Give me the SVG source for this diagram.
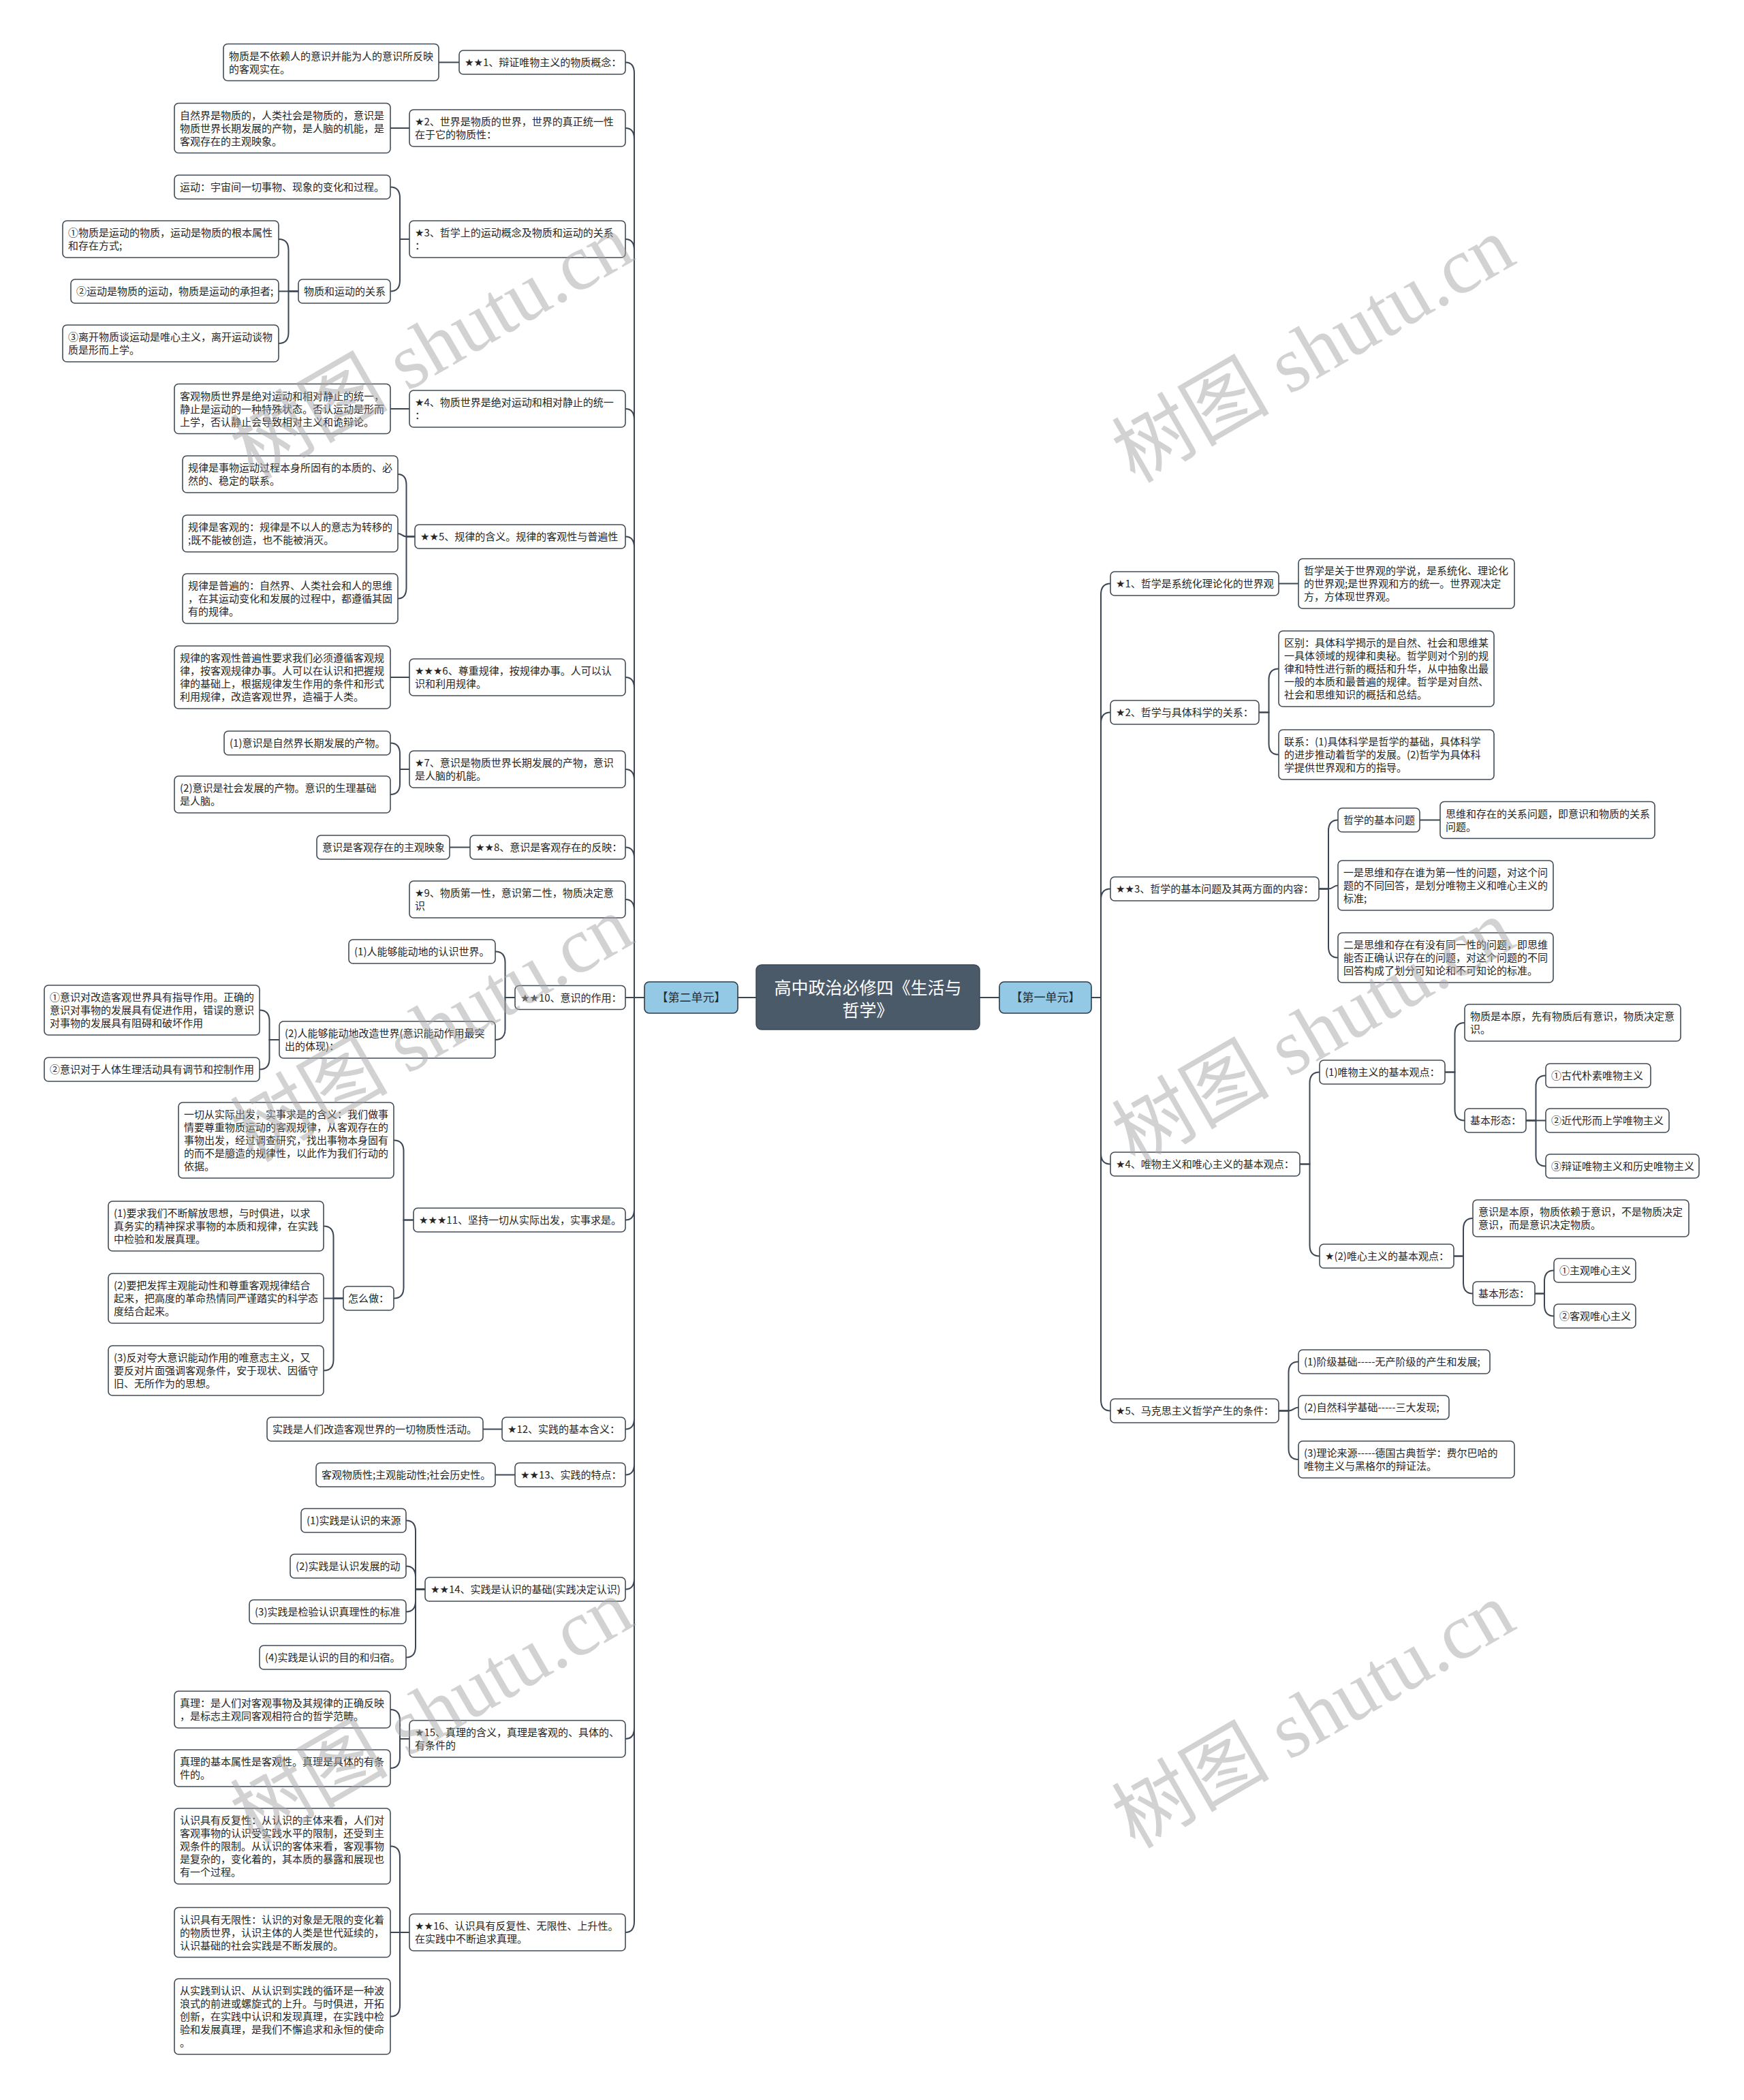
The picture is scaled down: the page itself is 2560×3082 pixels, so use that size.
<svg xmlns="http://www.w3.org/2000/svg" width="2560" height="3082" viewBox="0 0 2560 3082">
<style>
.bg{fill:#ffffff}
.n rect{fill:#ffffff;stroke:#414b55;stroke-width:1.6}
.n text{font-family:"Noto Sans CJK SC","Noto Sans",sans-serif;font-size:15px;fill:#262626}
.st{font-family:"DejaVu Sans",sans-serif}
#connectors path{fill:none;stroke:#3b4754;stroke-width:2}
#root rect{fill:#4b5a69;stroke:#3b4754;stroke-width:1.5}
#root text{font-family:"Noto Sans CJK SC",sans-serif;font-size:25px;fill:#ffffff;text-anchor:middle}
.u rect{fill:#93c9e5;stroke:#2e3b46;stroke-width:1.6}
.u text{font-family:"Noto Sans CJK SC",sans-serif;font-size:17px;fill:#1f2d38;text-anchor:middle}
.wm{font-family:"Liberation Serif","Noto Sans CJK SC",serif;font-size:116px;fill:#a6a6a6;opacity:0.5;text-anchor:middle}
</style>
<rect class="bg" x="0" y="0" width="2560" height="3082"/>
<g id="connectors">
<path d="M1110 1464 H1083"/>
<path d="M1438 1464 H1467"/>
<path d="M946 1464 H931 V107.5 Q931 91.5 918 91.5"/>
<path d="M946 1464 H931 V204 Q931 188 918 188"/>
<path d="M946 1464 H931 V367 Q931 351 918 351"/>
<path d="M946 1464 H931 V616 Q931 600 918 600"/>
<path d="M946 1464 H931 V803.5 Q931 787.5 918 787.5"/>
<path d="M946 1464 H931 V1010 Q931 994 918 994"/>
<path d="M946 1464 H931 V1145 Q931 1129 918 1129"/>
<path d="M946 1464 H931 V1259.5 Q931 1243.5 918 1243.5"/>
<path d="M946 1464 H931 V1336 Q931 1320 918 1320"/>
<path d="M946 1464 H918"/>
<path d="M946 1464 H931 V1774.5 Q931 1790.5 918 1790.5"/>
<path d="M946 1464 H931 V2081.5 Q931 2097.5 918 2097.5"/>
<path d="M946 1464 H931 V2148.5 Q931 2164.5 918 2164.5"/>
<path d="M946 1464 H931 V2316.5 Q931 2332.5 918 2332.5"/>
<path d="M946 1464 H931 V2536 Q931 2552 918 2552"/>
<path d="M946 1464 H931 V2820 Q931 2836 918 2836"/>
<path d="M1602 1464 H1616 V872.5 Q1616 856.5 1630 856.5"/>
<path d="M1602 1464 H1616 V1061.5 Q1616 1045.5 1630 1045.5"/>
<path d="M1602 1464 H1616 V1320.5 Q1616 1304.5 1630 1304.5"/>
<path d="M1602 1464 H1616 V1692.5 Q1616 1708.5 1630 1708.5"/>
<path d="M1602 1464 H1616 V2054.5 Q1616 2070.5 1630 2070.5"/>
<path d="M674 91.5 H644"/>
<path d="M601 188 H573"/>
<path d="M601 351 H587 V290.5 Q587 274.5 573 274.5"/>
<path d="M601 351 H587 V411.5 Q587 427.5 573 427.5"/>
<path d="M438 427.5 H423.5 V367 Q423.5 351 409 351"/>
<path d="M438 427.5 H409"/>
<path d="M438 427.5 H423.5 V488 Q423.5 504 409 504"/>
<path d="M601 600 H573"/>
<path d="M609 787.5 H596.5 V712 Q596.5 696 584 696"/>
<path d="M609 787.5 H596.5 C590 787.5 590 783 584 783"/>
<path d="M609 787.5 H596.5 V862.5 Q596.5 878.5 584 878.5"/>
<path d="M601 994 H573"/>
<path d="M601 1129 H587 V1106.5 Q587 1090.5 573 1090.5"/>
<path d="M601 1129 H587 V1150 Q587 1166 573 1166"/>
<path d="M690 1243.5 H660"/>
<path d="M756 1464 H741.5 V1412.5 Q741.5 1396.5 727 1396.5"/>
<path d="M756 1464 H741.5 V1510 Q741.5 1526 727 1526"/>
<path d="M410 1526 H395.5 V1498.5 Q395.5 1482.5 381 1482.5"/>
<path d="M410 1526 H395.5 V1553.5 Q395.5 1569.5 381 1569.5"/>
<path d="M607 1790.5 H592.5 V1689.5 Q592.5 1673.5 578 1673.5"/>
<path d="M607 1790.5 H592.5 V1889.5 Q592.5 1905.5 578 1905.5"/>
<path d="M504 1905.5 H489.5 V1815.5 Q489.5 1799.5 475 1799.5"/>
<path d="M504 1905.5 H475"/>
<path d="M504 1905.5 H489.5 V1995.5 Q489.5 2011.5 475 2011.5"/>
<path d="M737 2097.5 H709"/>
<path d="M756 2164.5 H727"/>
<path d="M624 2332.5 H610 V2247.5 Q610 2231.5 596 2231.5"/>
<path d="M624 2332.5 H610 V2314.5 Q610 2298.5 596 2298.5"/>
<path d="M624 2332.5 H610 V2349.5 Q610 2365.5 596 2365.5"/>
<path d="M624 2332.5 H610 V2416.5 Q610 2432.5 596 2432.5"/>
<path d="M601 2552 H587 V2525 Q587 2509 573 2509"/>
<path d="M601 2552 H587 V2579 Q587 2595 573 2595"/>
<path d="M601 2836 H587 V2725.5 Q587 2709.5 573 2709.5"/>
<path d="M601 2836 H573"/>
<path d="M601 2836 H587 V2943.5 Q587 2959.5 573 2959.5"/>
<path d="M1877 856.5 H1906"/>
<path d="M1848 1045.5 H1862.5 V997.5 Q1862.5 981.5 1877 981.5"/>
<path d="M1848 1045.5 H1862.5 V1091.5 Q1862.5 1107.5 1877 1107.5"/>
<path d="M1936 1304.5 H1950 V1219.5 Q1950 1203.5 1964 1203.5"/>
<path d="M1936 1304.5 H1950 C1957 1304.5 1957 1299.5 1964 1299.5"/>
<path d="M1936 1304.5 H1950 V1389.5 Q1950 1405.5 1964 1405.5"/>
<path d="M2084 1203.5 H2114"/>
<path d="M1908 1708.5 H1922.5 V1589.5 Q1922.5 1573.5 1937 1573.5"/>
<path d="M1908 1708.5 H1922.5 V1827.5 Q1922.5 1843.5 1937 1843.5"/>
<path d="M2121 1573.5 H2135.5 V1517 Q2135.5 1501 2150 1501"/>
<path d="M2121 1573.5 H2135.5 V1628.5 Q2135.5 1644.5 2150 1644.5"/>
<path d="M2240 1644.5 H2254.5 V1594.5 Q2254.5 1578.5 2269 1578.5"/>
<path d="M2240 1644.5 H2269"/>
<path d="M2240 1644.5 H2254.5 V1695.5 Q2254.5 1711.5 2269 1711.5"/>
<path d="M2134 1843.5 H2148 V1804 Q2148 1788 2162 1788"/>
<path d="M2134 1843.5 H2148 V1882.5 Q2148 1898.5 2162 1898.5"/>
<path d="M2253 1898.5 H2267 V1880.5 Q2267 1864.5 2281 1864.5"/>
<path d="M2253 1898.5 H2267 V1915.5 Q2267 1931.5 2281 1931.5"/>
<path d="M1877 2070.5 H1891.5 V2014.5 Q1891.5 1998.5 1906 1998.5"/>
<path d="M1877 2070.5 H1891.5 C1899 2070.5 1899 2065.5 1906 2065.5"/>
<path d="M1877 2070.5 H1891.5 V2126 Q1891.5 2142 1906 2142"/>
</g>

<g id="root"><rect x="1110" y="1416" width="328" height="95" rx="8"/><text><tspan x="1274" y="1459">高中政治必修四《生活与</tspan><tspan x="1274" y="1492">哲学》</tspan></text></g>
<g id="unit2" class="u"><rect x="946" y="1441" width="137" height="46" rx="7"/><text x="1014.5" y="1470">【第二单元】</text></g>
<g id="unit1" class="u"><rect x="1467" y="1441" width="135" height="46" rx="7"/><text x="1534.5" y="1470">【第一单元】</text></g>

<g id="L1" class="n"><rect x="674" y="74" width="244" height="35" rx="6"/><text x="682" y="97"><tspan class="st">★★</tspan>1、辩证唯物主义的物质概念：</text></g>
<g id="L1a" class="n"><rect x="328" y="64.5" width="316" height="54" rx="6"/><text><tspan x="336" y="87.5">物质是不依赖人的意识并能为人的意识所反映</tspan><tspan x="336" y="106.5">的客观实在。</tspan></text></g>
<g id="L2" class="n"><rect x="601" y="161" width="317" height="54" rx="6"/><text><tspan x="609" y="184"><tspan class="st">★</tspan>2、世界是物质的世界，世界的真正统一性</tspan><tspan x="609" y="203">在于它的物质性：</tspan></text></g>
<g id="L2a" class="n"><rect x="256" y="151.5" width="317" height="73" rx="6"/><text><tspan x="264" y="174.5">自然界是物质的，人类社会是物质的，意识是</tspan><tspan x="264" y="193.5">物质世界长期发展的产物，是人脑的机能，是</tspan><tspan x="264" y="212.5">客观存在的主观映象。</tspan></text></g>
<g id="L3" class="n"><rect x="601" y="324" width="317" height="54" rx="6"/><text><tspan x="609" y="347"><tspan class="st">★</tspan>3、哲学上的运动概念及物质和运动的关系</tspan><tspan x="609" y="366">：</tspan></text></g>
<g id="L3a" class="n"><rect x="256" y="257" width="317" height="35" rx="6"/><text x="264" y="280">运动：宇宙间一切事物、现象的变化和过程。</text></g>
<g id="L3b" class="n"><rect x="438" y="410" width="135" height="35" rx="6"/><text x="446" y="433">物质和运动的关系</text></g>
<g id="L3b1" class="n"><rect x="92" y="324" width="317" height="54" rx="6"/><text><tspan x="100" y="347">①物质是运动的物质，运动是物质的根本属性</tspan><tspan x="100" y="366">和存在方式;</tspan></text></g>
<g id="L3b2" class="n"><rect x="104" y="410" width="305" height="35" rx="6"/><text x="112" y="433">②运动是物质的运动，物质是运动的承担者;</text></g>
<g id="L3b3" class="n"><rect x="92" y="477" width="317" height="54" rx="6"/><text><tspan x="100" y="500">③离开物质谈运动是唯心主义，离开运动谈物</tspan><tspan x="100" y="519">质是形而上学。</tspan></text></g>
<g id="L4" class="n"><rect x="601" y="573" width="317" height="54" rx="6"/><text><tspan x="609" y="596"><tspan class="st">★</tspan>4、物质世界是绝对运动和相对静止的统一</tspan><tspan x="609" y="615">：</tspan></text></g>
<g id="L4a" class="n"><rect x="256" y="563.5" width="317" height="73" rx="6"/><text><tspan x="264" y="586.5">客观物质世界是绝对运动和相对静止的统一，</tspan><tspan x="264" y="605.5">静止是运动的一种特殊状态。否认运动是形而</tspan><tspan x="264" y="624.5">上学，否认静止会导致相对主义和诡辩论。</tspan></text></g>
<g id="L5" class="n"><rect x="609" y="770" width="309" height="35" rx="6"/><text x="617" y="793"><tspan class="st">★★</tspan>5、规律的含义。规律的客观性与普遍性</text></g>
<g id="L5a" class="n"><rect x="268" y="669" width="316" height="54" rx="6"/><text><tspan x="276" y="692">规律是事物运动过程本身所固有的本质的、必</tspan><tspan x="276" y="711">然的、稳定的联系。</tspan></text></g>
<g id="L5b" class="n"><rect x="268" y="756" width="316" height="54" rx="6"/><text><tspan x="276" y="779">规律是客观的：规律是不以人的意志为转移的</tspan><tspan x="276" y="798">;既不能被创造，也不能被消灭。</tspan></text></g>
<g id="L5c" class="n"><rect x="268" y="842" width="316" height="73" rx="6"/><text><tspan x="276" y="865">规律是普遍的：自然界、人类社会和人的思维</tspan><tspan x="276" y="884">，在其运动变化和发展的过程中，都遵循其固</tspan><tspan x="276" y="903">有的规律。</tspan></text></g>
<g id="L6" class="n"><rect x="601" y="967" width="317" height="54" rx="6"/><text><tspan x="609" y="990"><tspan class="st">★★★</tspan>6、尊重规律，按规律办事。人可以认</tspan><tspan x="609" y="1009">识和利用规律。</tspan></text></g>
<g id="L6a" class="n"><rect x="256" y="948" width="317" height="92" rx="6"/><text><tspan x="264" y="971">规律的客观性普遍性要求我们必须遵循客观规</tspan><tspan x="264" y="990">律，按客观规律办事。人可以在认识和把握规</tspan><tspan x="264" y="1009">律的基础上，根据规律发生作用的条件和形式</tspan><tspan x="264" y="1028">利用规律，改造客观世界，造福于人类。</tspan></text></g>
<g id="L7" class="n"><rect x="601" y="1102" width="317" height="54" rx="6"/><text><tspan x="609" y="1125"><tspan class="st">★</tspan>7、意识是物质世界长期发展的产物，意识</tspan><tspan x="609" y="1144">是人脑的机能。</tspan></text></g>
<g id="L7a" class="n"><rect x="329" y="1073" width="244" height="35" rx="6"/><text x="337" y="1096">(1)意识是自然界长期发展的产物。</text></g>
<g id="L7b" class="n"><rect x="256" y="1139" width="317" height="54" rx="6"/><text><tspan x="264" y="1162">(2)意识是社会发展的产物。意识的生理基础</tspan><tspan x="264" y="1181">是人脑。</tspan></text></g>
<g id="L8" class="n"><rect x="690" y="1226" width="228" height="35" rx="6"/><text x="698" y="1249"><tspan class="st">★★</tspan>8、意识是客观存在的反映：</text></g>
<g id="L8a" class="n"><rect x="465" y="1226" width="195" height="35" rx="6"/><text x="473" y="1249">意识是客观存在的主观映象</text></g>
<g id="L9" class="n"><rect x="601" y="1293" width="317" height="54" rx="6"/><text><tspan x="609" y="1316"><tspan class="st">★</tspan>9、物质第一性，意识第二性，物质决定意</tspan><tspan x="609" y="1335">识</tspan></text></g>
<g id="L10" class="n"><rect x="756" y="1446.5" width="162" height="35" rx="6"/><text x="764" y="1469.5"><tspan class="st">★★</tspan>10、意识的作用：</text></g>
<g id="L10a" class="n"><rect x="512" y="1379" width="215" height="35" rx="6"/><text x="520" y="1402">(1)人能够能动地的认识世界。</text></g>
<g id="L10b" class="n"><rect x="410" y="1499" width="317" height="54" rx="6"/><text><tspan x="418" y="1522">(2)人能够能动地改造世界(意识能动作用最突</tspan><tspan x="418" y="1541">出的体现)：</tspan></text></g>
<g id="L10b1" class="n"><rect x="65" y="1446" width="316" height="73" rx="6"/><text><tspan x="73" y="1469">①意识对改造客观世界具有指导作用。正确的</tspan><tspan x="73" y="1488">意识对事物的发展具有促进作用，错误的意识</tspan><tspan x="73" y="1507">对事物的发展具有阻碍和破坏作用</tspan></text></g>
<g id="L10b2" class="n"><rect x="65" y="1552" width="316" height="35" rx="6"/><text x="73" y="1575">②意识对于人体生理活动具有调节和控制作用</text></g>
<g id="L11" class="n"><rect x="607" y="1773" width="311" height="35" rx="6"/><text x="615" y="1796"><tspan class="st">★★★</tspan>11、坚持一切从实际出发，实事求是。</text></g>
<g id="L11a" class="n"><rect x="262" y="1618" width="316" height="111" rx="6"/><text><tspan x="270" y="1641">一切从实际出发，实事求是的含义：我们做事</tspan><tspan x="270" y="1660">情要尊重物质运动的客观规律，从客观存在的</tspan><tspan x="270" y="1679">事物出发，经过调查研究，找出事物本身固有</tspan><tspan x="270" y="1698">的而不是臆造的规律性，以此作为我们行动的</tspan><tspan x="270" y="1717">依据。</tspan></text></g>
<g id="L11b" class="n"><rect x="504" y="1888" width="74" height="35" rx="6"/><text x="511" y="1911">怎么做：</text></g>
<g id="L11b1" class="n"><rect x="159" y="1763" width="316" height="73" rx="6"/><text><tspan x="167" y="1786">(1)要求我们不断解放思想，与时俱进，以求</tspan><tspan x="167" y="1805">真务实的精神探求事物的本质和规律，在实践</tspan><tspan x="167" y="1824">中检验和发展真理。</tspan></text></g>
<g id="L11b2" class="n"><rect x="159" y="1869" width="316" height="73" rx="6"/><text><tspan x="167" y="1892">(2)要把发挥主观能动性和尊重客观规律结合</tspan><tspan x="167" y="1911">起来，把高度的革命热情同严谨踏实的科学态</tspan><tspan x="167" y="1930">度结合起来。</tspan></text></g>
<g id="L11b3" class="n"><rect x="159" y="1975" width="316" height="73" rx="6"/><text><tspan x="167" y="1998">(3)反对夸大意识能动作用的唯意志主义，又</tspan><tspan x="167" y="2017">要反对片面强调客观条件，安于现状、因循守</tspan><tspan x="167" y="2036">旧、无所作为的思想。</tspan></text></g>
<g id="L12" class="n"><rect x="737" y="2080" width="181" height="35" rx="6"/><text x="745" y="2103"><tspan class="st">★</tspan>12、实践的基本含义：</text></g>
<g id="L12a" class="n"><rect x="392" y="2080" width="317" height="35" rx="6"/><text x="400" y="2103">实践是人们改造客观世界的一切物质性活动。</text></g>
<g id="L13" class="n"><rect x="756" y="2147" width="162" height="35" rx="6"/><text x="764" y="2170"><tspan class="st">★★</tspan>13、实践的特点：</text></g>
<g id="L13a" class="n"><rect x="464" y="2147" width="263" height="35" rx="6"/><text x="472" y="2170">客观物质性;主观能动性;社会历史性。</text></g>
<g id="L14" class="n"><rect x="624" y="2315" width="294" height="35" rx="6"/><text x="632" y="2338"><tspan class="st">★★</tspan>14、实践是认识的基础(实践决定认识)</text></g>
<g id="L14a" class="n"><rect x="442" y="2214" width="154" height="35" rx="6"/><text x="450" y="2237">(1)实践是认识的来源</text></g>
<g id="L14b" class="n"><rect x="426" y="2281" width="170" height="35" rx="6"/><text x="434" y="2304">(2)实践是认识发展的动</text></g>
<g id="L14c" class="n"><rect x="366" y="2348" width="230" height="35" rx="6"/><text x="374" y="2371">(3)实践是检验认识真理性的标准</text></g>
<g id="L14d" class="n"><rect x="381" y="2415" width="215" height="35" rx="6"/><text x="389" y="2438">(4)实践是认识的目的和归宿。</text></g>
<g id="L15" class="n"><rect x="601" y="2525" width="317" height="54" rx="6"/><text><tspan x="609" y="2548"><tspan class="st">★</tspan>15、真理的含义，真理是客观的、具体的、</tspan><tspan x="609" y="2567">有条件的</tspan></text></g>
<g id="L15a" class="n"><rect x="256" y="2482" width="317" height="54" rx="6"/><text><tspan x="264" y="2505">真理：是人们对客观事物及其规律的正确反映</tspan><tspan x="264" y="2524">，是标志主观同客观相符合的哲学范畴。</tspan></text></g>
<g id="L15b" class="n"><rect x="256" y="2568" width="317" height="54" rx="6"/><text><tspan x="264" y="2591">真理的基本属性是客观性。真理是具体的有条</tspan><tspan x="264" y="2610">件的。</tspan></text></g>
<g id="L16" class="n"><rect x="601" y="2809" width="317" height="54" rx="6"/><text><tspan x="609" y="2832"><tspan class="st">★★</tspan>16、认识具有反复性、无限性、上升性。</tspan><tspan x="609" y="2851">在实践中不断追求真理。</tspan></text></g>
<g id="L16a" class="n"><rect x="256" y="2654" width="317" height="111" rx="6"/><text><tspan x="264" y="2677">认识具有反复性：从认识的主体来看，人们对</tspan><tspan x="264" y="2696">客观事物的认识受实践水平的限制，还受到主</tspan><tspan x="264" y="2715">观条件的限制。从认识的客体来看，客观事物</tspan><tspan x="264" y="2734">是复杂的，变化着的，其本质的暴露和展现也</tspan><tspan x="264" y="2753">有一个过程。</tspan></text></g>
<g id="L16b" class="n"><rect x="256" y="2799.5" width="317" height="73" rx="6"/><text><tspan x="264" y="2822.5">认识具有无限性：认识的对象是无限的变化着</tspan><tspan x="264" y="2841.5">的物质世界，认识主体的人类是世代延续的，</tspan><tspan x="264" y="2860.5">认识基础的社会实践是不断发展的。</tspan></text></g>
<g id="L16c" class="n"><rect x="256" y="2904" width="317" height="111" rx="6"/><text><tspan x="264" y="2927">从实践到认识、从认识到实践的循环是一种波</tspan><tspan x="264" y="2946">浪式的前进或螺旋式的上升。与时俱进，开拓</tspan><tspan x="264" y="2965">创新，在实践中认识和发现真理，在实践中检</tspan><tspan x="264" y="2984">验和发展真理，是我们不懈追求和永恒的使命</tspan><tspan x="264" y="3003">。</tspan></text></g>

<g id="R1" class="n"><rect x="1630" y="839" width="247" height="35" rx="6"/><text x="1638" y="862"><tspan class="st">★</tspan>1、哲学是系统化理论化的世界观</text></g>
<g id="R1a" class="n"><rect x="1906" y="820" width="317" height="73" rx="6"/><text><tspan x="1914" y="843">哲学是关于世界观的学说，是系统化、理论化</tspan><tspan x="1914" y="862">的世界观;是世界观和方的统一。世界观决定</tspan><tspan x="1914" y="881">方，方体现世界观。</tspan></text></g>
<g id="R2" class="n"><rect x="1630" y="1028" width="218" height="35" rx="6"/><text x="1638" y="1051"><tspan class="st">★</tspan>2、哲学与具体科学的关系：</text></g>
<g id="R2a" class="n"><rect x="1877" y="926" width="316" height="111" rx="6"/><text><tspan x="1885" y="949">区别：具体科学揭示的是自然、社会和思维某</tspan><tspan x="1885" y="968">一具体领域的规律和奥秘。哲学则对个别的规</tspan><tspan x="1885" y="987">律和特性进行新的概括和升华，从中抽象出最</tspan><tspan x="1885" y="1006">一般的本质和最普遍的规律。哲学是对自然、</tspan><tspan x="1885" y="1025">社会和思维知识的概括和总结。</tspan></text></g>
<g id="R2b" class="n"><rect x="1877" y="1071" width="316" height="73" rx="6"/><text><tspan x="1885" y="1094">联系：(1)具体科学是哲学的基础，具体科学</tspan><tspan x="1885" y="1113">的进步推动着哲学的发展。(2)哲学为具体科</tspan><tspan x="1885" y="1132">学提供世界观和方的指导。</tspan></text></g>
<g id="R3" class="n"><rect x="1630" y="1287" width="306" height="35" rx="6"/><text x="1638" y="1310"><tspan class="st">★★</tspan>3、哲学的基本问题及其两方面的内容：</text></g>
<g id="R3a" class="n"><rect x="1964" y="1186" width="120" height="35" rx="6"/><text x="1972" y="1209">哲学的基本问题</text></g>
<g id="R3a1" class="n"><rect x="2114" y="1176.5" width="315" height="54" rx="6"/><text><tspan x="2122" y="1199.5">思维和存在的关系问题，即意识和物质的关系</tspan><tspan x="2122" y="1218.5">问题。</tspan></text></g>
<g id="R3b" class="n"><rect x="1964" y="1263" width="316" height="73" rx="6"/><text><tspan x="1972" y="1286">一是思维和存在谁为第一性的问题，对这个问</tspan><tspan x="1972" y="1305">题的不同回答，是划分唯物主义和唯心主义的</tspan><tspan x="1972" y="1324">标准;</tspan></text></g>
<g id="R3c" class="n"><rect x="1964" y="1369" width="316" height="73" rx="6"/><text><tspan x="1972" y="1392">二是思维和存在有没有同一性的问题，即思维</tspan><tspan x="1972" y="1411">能否正确认识存在的问题，对这个问题的不同</tspan><tspan x="1972" y="1430">回答构成了划分可知论和不可知论的标准。</tspan></text></g>
<g id="R4" class="n"><rect x="1630" y="1691" width="278" height="35" rx="6"/><text x="1638" y="1714"><tspan class="st">★</tspan>4、唯物主义和唯心主义的基本观点：</text></g>
<g id="R4a" class="n"><rect x="1937" y="1556" width="184" height="35" rx="6"/><text x="1945" y="1579">(1)唯物主义的基本观点：</text></g>
<g id="R4a1" class="n"><rect x="2150" y="1474" width="317" height="54" rx="6"/><text><tspan x="2158" y="1497">物质是本原，先有物质后有意识，物质决定意</tspan><tspan x="2158" y="1516">识。</tspan></text></g>
<g id="R4a2" class="n"><rect x="2150" y="1627" width="90" height="35" rx="6"/><text x="2158" y="1650">基本形态：</text></g>
<g id="R4a2a" class="n"><rect x="2269" y="1561" width="154" height="35" rx="6"/><text x="2277" y="1584">①古代朴素唯物主义</text></g>
<g id="R4a2b" class="n"><rect x="2269" y="1627" width="181" height="35" rx="6"/><text x="2277" y="1650">②近代形而上学唯物主义</text></g>
<g id="R4a2c" class="n"><rect x="2269" y="1694" width="225" height="35" rx="6"/><text x="2277" y="1717">③辩证唯物主义和历史唯物主义</text></g>
<g id="R4b" class="n"><rect x="1937" y="1826" width="197" height="35" rx="6"/><text x="1945" y="1849"><tspan class="st">★</tspan>(2)唯心主义的基本观点：</text></g>
<g id="R4b1" class="n"><rect x="2162" y="1761" width="317" height="54" rx="6"/><text><tspan x="2170" y="1784">意识是本原，物质依赖于意识，不是物质决定</tspan><tspan x="2170" y="1803">意识，而是意识决定物质。</tspan></text></g>
<g id="R4b2" class="n"><rect x="2162" y="1881" width="91" height="35" rx="6"/><text x="2170" y="1904">基本形态：</text></g>
<g id="R4b2a" class="n"><rect x="2281" y="1847" width="120" height="35" rx="6"/><text x="2289" y="1870">①主观唯心主义</text></g>
<g id="R4b2b" class="n"><rect x="2281" y="1914" width="120" height="35" rx="6"/><text x="2289" y="1937">②客观唯心主义</text></g>
<g id="R5" class="n"><rect x="1630" y="2053" width="247" height="35" rx="6"/><text x="1638" y="2076"><tspan class="st">★</tspan>5、马克思主义哲学产生的条件：</text></g>
<g id="R5a" class="n"><rect x="1906" y="1981" width="281" height="35" rx="6"/><text x="1914" y="2004">(1)阶级基础-----无产阶级的产生和发展;</text></g>
<g id="R5b" class="n"><rect x="1906" y="2048" width="221" height="35" rx="6"/><text x="1914" y="2071">(2)自然科学基础-----三大发现;</text></g>
<g id="R5c" class="n"><rect x="1906" y="2115" width="317" height="54" rx="6"/><text><tspan x="1914" y="2138">(3)理论来源-----德国古典哲学：费尔巴哈的</tspan><tspan x="1914" y="2157">唯物主义与黑格尔的辩证法。</tspan></text></g>

<g id="watermarks">
<text class="wm" x="633" y="548" transform="rotate(-30 633 507)">树图 shutu.cn</text>
<text class="wm" x="633" y="1550" transform="rotate(-30 633 1509)">树图 shutu.cn</text>
<text class="wm" x="633" y="2552" transform="rotate(-30 633 2511)">树图 shutu.cn</text>
<text class="wm" x="1927" y="553" transform="rotate(-30 1927 512)">树图 shutu.cn</text>
<text class="wm" x="1927" y="1555" transform="rotate(-30 1927 1514)">树图 shutu.cn</text>
<text class="wm" x="1927" y="2557" transform="rotate(-30 1927 2516)">树图 shutu.cn</text>
</g>
</svg>
